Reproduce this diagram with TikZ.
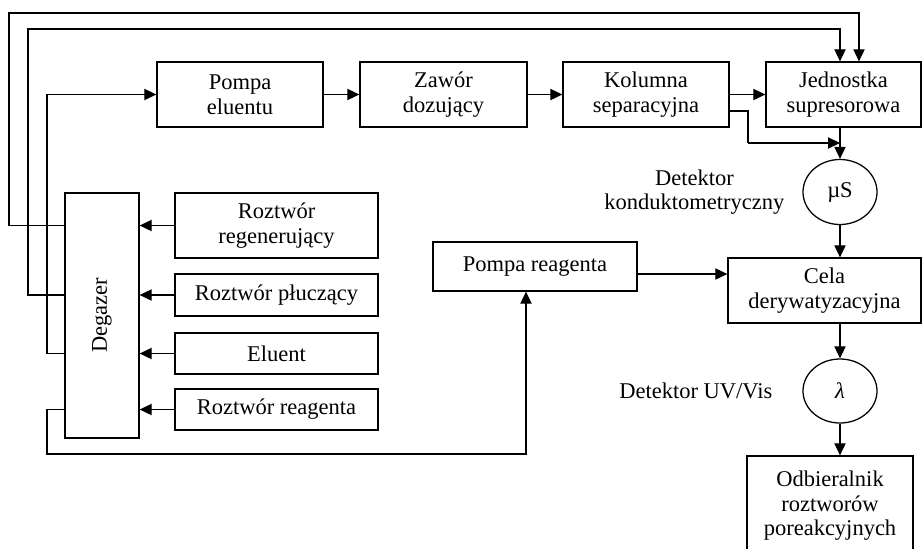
\documentclass[tikz,border=0pt]{standalone}
\usepackage{fontspec}
\setmainfont{Liberation Serif}
\usetikzlibrary{shapes,arrows,arrows.meta,positioning,calc}
\tikzstyle{block} = [rectangle, draw=black, line width=0.9pt, align=center, inner sep=2pt]
\tikzstyle{detector} = [ellipse, draw=black, line width=0.9pt, minimum width=1.85cm, minimum height=1.625cm, inner sep=0pt]
\tikzstyle{arrow} = [line width=0.9pt, -{Triangle[length=0.3cm,width=0.28cm]}]
\tikzstyle{pipe} = [line width=0.9pt]

\begin{document}
\begin{tikzpicture}[x=0.025cm, y=-0.025cm, font=\fontsize{16}{17.5}\selectfont]
\clip (0,0) rectangle (923,548);

% top row
\node [block, minimum width=4.15cm, minimum height=1.625cm] (pompaEl) at (240,94.5) {Pompa\\eluentu};
\node [block, minimum width=4.175cm, minimum height=1.625cm] (zawor) at (443.5,94.5) {Zawór\\dozujący};
\node [block, minimum width=4.15cm, minimum height=1.625cm] (kolumna) at (646,94.5) {Kolumna\\separacyjna};
\node [block, minimum width=3.875cm, minimum height=1.625cm] (supresor) at (843.5,94.5) {Jednostka\\supresorowa};

% detectors and cell
\node [detector] (muS) at (840,192) {µS};
\node [left=0.325cm of muS, align=center] (konduk) {Detektor\\konduktometryczny};
\node [block, minimum width=4.825cm, minimum height=1.625cm] (cela) at (824.5,290.5) {Cela\\derywatyzacyjna};
\node [detector, minimum height=1.6cm] (lambda) at (840,391) {\textit{λ}};
\node [left=0.625cm of lambda] (uvvis) {Detektor UV/Vis};
\node [block, minimum width=4.15cm, minimum height=2.5cm] (odbior) at (830,506) {Odbieralnik\\roztworów\\poreakcyjnych};
\node [block, minimum width=5.1cm, minimum height=1.225cm] (pompaRe) at (535,266.5) {Pompa reagenta};

% degazer and solutions
\node [block, minimum width=1.85cm, minimum height=6.125cm] (degazer) at (102,315.5) {};
\node [rotate=90] at (degazer) {Degazer};
\node [block, minimum width=5.075cm, minimum height=1.625cm] (regen) at (276.5,225.5) {Roztwór\\regenerujący};
\node [block, minimum width=5.075cm, minimum height=1.05cm] (plucz) at (276.5,295) {Roztwór płuczący};
\node [block, minimum width=5.075cm, minimum height=1.025cm] (eluent) at (276.5,353.5) {Eluent};
\node [block, minimum width=5.075cm, minimum height=1.025cm] (reag) at (276.5,409.5) {Roztwór reagenta};

\draw [arrow] (regen.west) -- (degazer.east |- regen.west);
\draw [arrow] (plucz.west) -- (degazer.east |- plucz.west);
\draw [arrow] (eluent.west) -- (degazer.east |- eluent.west);
\draw [arrow] (reag.west) -- (degazer.east |- reag.west);

% lines out of the degazer
\draw [arrow] (degazer.west |- regen.west) -| (9,13) -| ($(muS |- supresor.north)+(19,0)$);
\draw [arrow] (degazer.west |- plucz.west) -| (28,29) -| (muS |- supresor.north);
\draw [arrow] (degazer.west |- eluent.west) -| (47,94.5) -- (pompaEl.west);
\draw [arrow] (degazer.west |- reag.west) -| (47,454) -| ($(pompaRe.south)+(-9,0)$);

% main flow
\draw [arrow] (pompaEl) -- (zawor);
\draw [arrow] (zawor) -- (kolumna);
\draw [arrow] (kolumna) -- (supresor);
\draw [pipe] (kolumna.east |- 0,111) -| (748,143);
\draw [arrow] (748,143) -- (muS |- 0,143);
\draw [arrow] (muS |- supresor.south) -- (muS.north);
\draw [arrow] (muS.south) -- (muS |- cela.north);
\draw [arrow] (pompaRe.east |- 0,274) -- (cela.west |- 0,274);
\draw [arrow] (lambda |- cela.south) -- (lambda.north);
\draw [arrow] (lambda.south) -- (lambda |- odbior.north);

\end{tikzpicture}
\end{document}
